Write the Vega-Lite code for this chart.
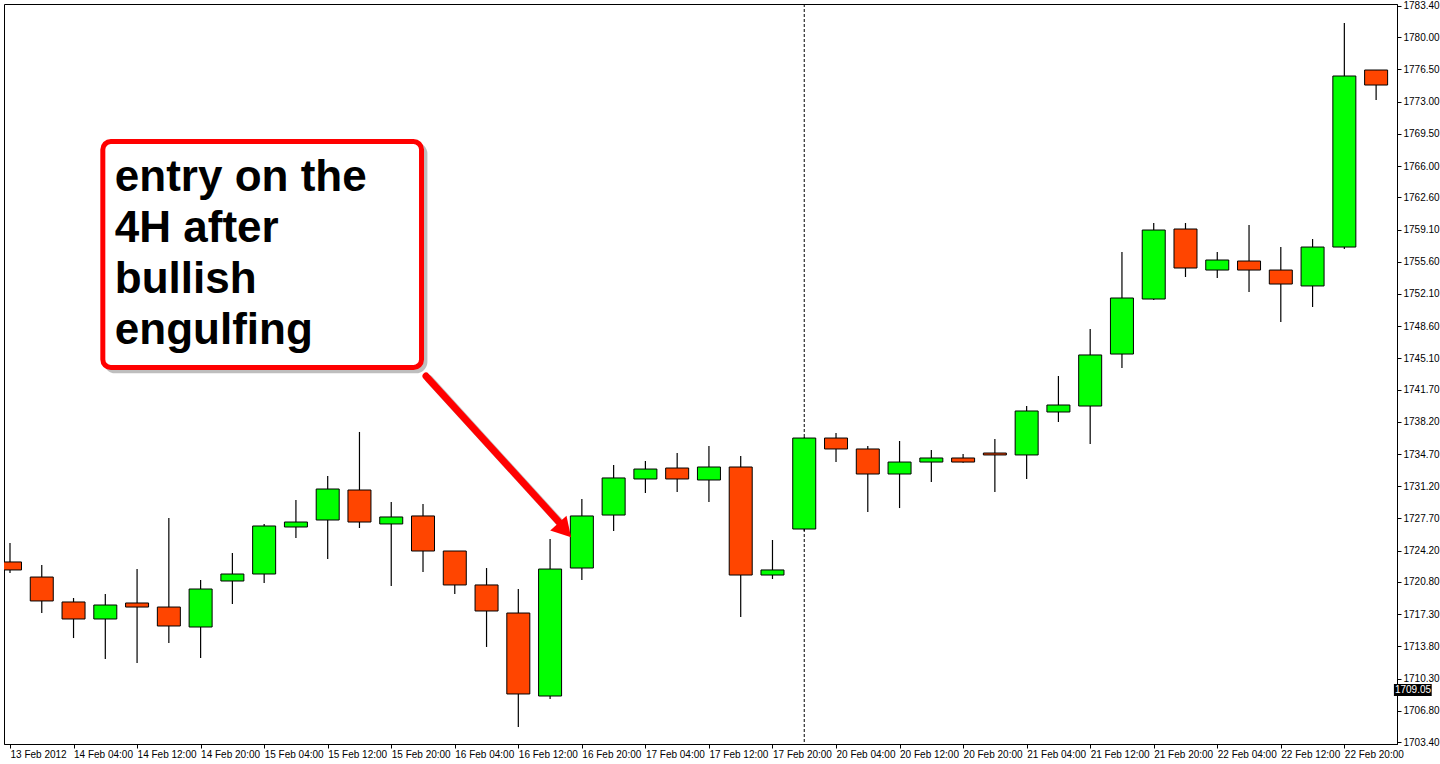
{
  "$schema": "https://vega.github.io/schema/vega-lite/v6.json",
  "autosize": {"type": "none"},
  "width": 1393,
  "height": 740,
  "padding": {"left": 4, "top": 4, "right": 43, "bottom": 20},
  "background": "white",
  "config": {
    "view": {"stroke": "black", "strokeWidth": 1},
    "axis": {"domainColor": "black", "tickColor": "black", "labelColor": "black", "labelFont": "Liberation Sans", "labelFontSize": 10, "grid": false, "title": null}
  },
  "datasets": {
    "candles": [
      {"i": 0, "t": "2012-02-13 20:00", "o": 1722.97, "h": 1725.03, "l": 1721.77, "c": 1722.10},
      {"i": 1, "t": "2012-02-14 00:00", "o": 1721.33, "h": 1722.64, "l": 1717.42, "c": 1718.73},
      {"i": 2, "t": "2012-02-14 04:00", "o": 1718.62, "h": 1719.05, "l": 1714.70, "c": 1716.77},
      {"i": 3, "t": "2012-02-14 08:00", "o": 1716.77, "h": 1719.49, "l": 1712.42, "c": 1718.29},
      {"i": 4, "t": "2012-02-14 12:00", "o": 1718.51, "h": 1722.20, "l": 1711.99, "c": 1718.07},
      {"i": 5, "t": "2012-02-14 16:00", "o": 1718.07, "h": 1727.75, "l": 1714.16, "c": 1716.01},
      {"i": 6, "t": "2012-02-14 20:00", "o": 1715.90, "h": 1721.01, "l": 1712.53, "c": 1720.03},
      {"i": 7, "t": "2012-02-15 00:00", "o": 1720.90, "h": 1723.94, "l": 1718.40, "c": 1721.66},
      {"i": 8, "t": "2012-02-15 04:00", "o": 1721.66, "h": 1727.10, "l": 1720.68, "c": 1726.88},
      {"i": 9, "t": "2012-02-15 08:00", "o": 1726.77, "h": 1729.70, "l": 1725.57, "c": 1727.31},
      {"i": 10, "t": "2012-02-15 12:00", "o": 1727.53, "h": 1732.31, "l": 1723.29, "c": 1730.90},
      {"i": 11, "t": "2012-02-15 16:00", "o": 1730.79, "h": 1737.10, "l": 1726.66, "c": 1727.31},
      {"i": 12, "t": "2012-02-15 20:00", "o": 1727.10, "h": 1729.49, "l": 1720.36, "c": 1727.86},
      {"i": 13, "t": "2012-02-16 00:00", "o": 1727.97, "h": 1729.27, "l": 1721.88, "c": 1724.16},
      {"i": 14, "t": "2012-02-16 04:00", "o": 1724.16, "h": 1724.16, "l": 1719.49, "c": 1720.47},
      {"i": 15, "t": "2012-02-16 08:00", "o": 1720.47, "h": 1722.31, "l": 1713.73, "c": 1717.64},
      {"i": 16, "t": "2012-02-16 12:00", "o": 1717.42, "h": 1720.03, "l": 1705.03, "c": 1708.62},
      {"i": 17, "t": "2012-02-16 16:00", "o": 1708.40, "h": 1725.47, "l": 1708.07, "c": 1722.20},
      {"i": 18, "t": "2012-02-16 20:00", "o": 1722.31, "h": 1729.81, "l": 1721.01, "c": 1727.97},
      {"i": 19, "t": "2012-02-17 00:00", "o": 1728.07, "h": 1733.51, "l": 1726.33, "c": 1732.10},
      {"i": 20, "t": "2012-02-17 04:00", "o": 1731.99, "h": 1733.94, "l": 1730.47, "c": 1733.07},
      {"i": 21, "t": "2012-02-17 08:00", "o": 1733.18, "h": 1734.81, "l": 1730.57, "c": 1731.99},
      {"i": 22, "t": "2012-02-17 12:00", "o": 1731.88, "h": 1735.57, "l": 1729.49, "c": 1733.29},
      {"i": 23, "t": "2012-02-17 16:00", "o": 1733.29, "h": 1734.49, "l": 1716.99, "c": 1721.55},
      {"i": 24, "t": "2012-02-17 20:00", "o": 1721.55, "h": 1725.36, "l": 1721.12, "c": 1722.10},
      {"i": 25, "t": "2012-02-20 00:00", "o": 1726.55, "h": 1736.55, "l": 1726.33, "c": 1736.44},
      {"i": 26, "t": "2012-02-20 04:00", "o": 1736.44, "h": 1736.99, "l": 1733.83, "c": 1735.25},
      {"i": 27, "t": "2012-02-20 08:00", "o": 1735.25, "h": 1735.57, "l": 1728.40, "c": 1732.53},
      {"i": 28, "t": "2012-02-20 12:00", "o": 1732.53, "h": 1736.12, "l": 1728.83, "c": 1733.83},
      {"i": 29, "t": "2012-02-20 16:00", "o": 1733.83, "h": 1735.14, "l": 1731.66, "c": 1734.27},
      {"i": 30, "t": "2012-02-20 20:00", "o": 1734.27, "h": 1734.70, "l": 1733.75, "c": 1733.83},
      {"i": 31, "t": "2012-02-21 00:00", "o": 1734.81, "h": 1736.33, "l": 1730.57, "c": 1734.60},
      {"i": 32, "t": "2012-02-21 04:00", "o": 1734.60, "h": 1739.92, "l": 1731.99, "c": 1739.38},
      {"i": 33, "t": "2012-02-21 08:00", "o": 1739.27, "h": 1743.18, "l": 1738.18, "c": 1740.03},
      {"i": 34, "t": "2012-02-21 12:00", "o": 1739.92, "h": 1748.29, "l": 1735.79, "c": 1745.47},
      {"i": 35, "t": "2012-02-21 16:00", "o": 1745.57, "h": 1756.66, "l": 1744.05, "c": 1751.66},
      {"i": 36, "t": "2012-02-21 20:00", "o": 1751.55, "h": 1759.81, "l": 1751.45, "c": 1759.05},
      {"i": 37, "t": "2012-02-22 00:00", "o": 1759.16, "h": 1759.81, "l": 1753.94, "c": 1754.92},
      {"i": 38, "t": "2012-02-22 04:00", "o": 1754.70, "h": 1756.66, "l": 1753.83, "c": 1755.79},
      {"i": 39, "t": "2012-02-22 08:00", "o": 1755.68, "h": 1759.60, "l": 1752.31, "c": 1754.70},
      {"i": 40, "t": "2012-02-22 12:00", "o": 1754.70, "h": 1757.20, "l": 1749.05, "c": 1753.18},
      {"i": 41, "t": "2012-02-22 16:00", "o": 1752.97, "h": 1758.07, "l": 1750.68, "c": 1757.20},
      {"i": 42, "t": "2012-02-22 20:00", "o": 1757.20, "h": 1781.55, "l": 1756.99, "c": 1775.79},
      {"i": 43, "t": "2012-02-23 00:00", "o": 1776.44, "h": 1776.44, "l": 1773.18, "c": 1774.81}
    ],
    "separator": [{"sep": 25}],
    "box": [{"x": 2.922, "x2": 12.953, "y": 1768.67, "y2": 1744.11}],
    "boxShadow": [{"x": 3.03, "x2": 13.06, "y": 1768.30, "y2": 1743.74}],
    "note": [{"x": 3.30, "y": 1763.30, "label": "entry on the\n4H after\nbullish\nengulfing"}],
    "arrow": [{"x": 13.094, "y": 1743.18, "x2": 17.281, "y2": 1727.31}],
    "arrowShadow": [{"x": 13.19, "y": 1742.85, "x2": 17.38, "y2": 1726.98}],
    "arrowHead": [{"x": 17.46, "y": 1726.42}],
    "priceTag": [{"x": 43.56, "x2": 44.75, "y": 1708.40, "y2": 1709.70, "xc": 44.16, "price": 1709.05}]
  },
  "layer": [
    {
      "data": {"name": "separator"},
      "mark": {"type": "rule", "color": "black", "strokeWidth": 1, "strokeDash": [3, 2]},
      "encoding": {
        "x": {"field": "sep", "type": "quantitative", "title": null, "scale": {"domain": [-0.03125, 43.5], "nice": false, "zero": false}}
      }
    },
    {
      "data": {"name": "candles"},
      "mark": {"type": "rule", "color": "black", "strokeWidth": 1.2, "clip": true},
      "encoding": {
        "x": {
          "field": "i", "type": "quantitative", "title": null,
          "scale": {"domain": [-0.03125, 43.5], "nice": false, "zero": false},
          "axis": {
            "values": [0, 2, 4, 6, 8, 10, 12, 14, 16, 18, 20, 22, 24, 26, 28, 30, 32, 34, 36, 38, 40, 42],
            "tickCount": 60,
            "labelExpr": "['13 Feb 2012','14 Feb 04:00','14 Feb 12:00','14 Feb 20:00','15 Feb 04:00','15 Feb 12:00','15 Feb 20:00','16 Feb 04:00','16 Feb 12:00','16 Feb 20:00','17 Feb 04:00','17 Feb 12:00','17 Feb 20:00','20 Feb 04:00','20 Feb 12:00','20 Feb 20:00','21 Feb 04:00','21 Feb 12:00','21 Feb 20:00','22 Feb 04:00','22 Feb 12:00','22 Feb 20:00'][round(datum.value/2)]",
            "labelAlign": "left", "labelBaseline": "top", "labelDx": 1, "labelPadding": 1,
            "tickSize": 4, "labelFlush": false, "labelOverlap": false, "labelBound": false, "title": null
          }
        },
        "y": {
          "field": "l", "type": "quantitative", "title": null,
          "scale": {"domain": [1703.183, 1783.617], "nice": false, "zero": false},
          "axis": {
            "orient": "right",
            "values": [1783.4, 1780, 1776.5, 1773, 1769.5, 1766, 1762.6, 1759.1, 1755.6, 1752.1, 1748.6, 1745.1, 1741.7, 1738.2, 1734.7, 1731.2, 1727.7, 1724.2, 1720.8, 1717.3, 1713.8, 1710.3, 1706.8, 1703.4],
            "tickCount": 60,
            "format": ".2f", "tickSize": 4, "labelPadding": 2, "labelBaseline": "middle", "labelOverlap": false, "labelBound": false, "labelFlush": false, "title": null
          }
        },
        "y2": {"field": "h"}
      }
    },
    {
      "data": {"name": "candles"},
      "mark": {"type": "bar", "width": 23, "stroke": "black", "strokeWidth": 1, "clip": true},
      "encoding": {
        "x": {"field": "i", "type": "quantitative", "title": null},
        "y": {"field": "o", "type": "quantitative", "title": null},
        "y2": {"field": "c"},
        "fill": {"condition": {"test": "datum.c >= datum.o", "value": "#00FF00"}, "value": "#FF4500"}
      }
    },
    {
      "data": {"name": "boxShadow"},
      "mark": {"type": "rect", "cornerRadius": 9, "fill": "#8a8a8a", "stroke": "#8a8a8a", "strokeWidth": 5, "opacity": 0.55},
      "encoding": {
        "x": {"field": "x", "type": "quantitative", "title": null},
        "x2": {"field": "x2"},
        "y": {"field": "y", "type": "quantitative", "title": null},
        "y2": {"field": "y2"}
      }
    },
    {
      "data": {"name": "box"},
      "mark": {"type": "rect", "cornerRadius": 8, "fill": "white", "stroke": "#FF0000", "strokeWidth": 5},
      "encoding": {
        "x": {"field": "x", "type": "quantitative", "title": null},
        "x2": {"field": "x2"},
        "y": {"field": "y", "type": "quantitative", "title": null},
        "y2": {"field": "y2"}
      }
    },
    {
      "data": {"name": "note"},
      "mark": {"type": "text", "font": "Liberation Sans", "fontWeight": "bold", "fontSize": 44, "color": "black", "align": "left", "baseline": "alphabetic", "lineBreak": "\n", "lineHeight": 51},
      "encoding": {
        "x": {"field": "x", "type": "quantitative", "title": null},
        "y": {"field": "y", "type": "quantitative", "title": null},
        "text": {"field": "label"}
      }
    },
    {
      "data": {"name": "arrowShadow"},
      "mark": {"type": "rule", "color": "#777777", "opacity": 0.45, "strokeWidth": 8, "strokeCap": "round"},
      "encoding": {
        "x": {"field": "x", "type": "quantitative", "title": null},
        "x2": {"field": "x2"},
        "y": {"field": "y", "type": "quantitative", "title": null},
        "y2": {"field": "y2"}
      }
    },
    {
      "data": {"name": "arrow"},
      "mark": {"type": "rule", "color": "#FF0000", "strokeWidth": 7, "strokeCap": "round"},
      "encoding": {
        "x": {"field": "x", "type": "quantitative", "title": null},
        "x2": {"field": "x2"},
        "y": {"field": "y", "type": "quantitative", "title": null},
        "y2": {"field": "y2"}
      }
    },
    {
      "data": {"name": "arrowHead"},
      "mark": {"type": "point", "shape": "triangle-up", "filled": true, "color": "#FF0000", "size": 480, "angle": 138, "opacity": 1},
      "encoding": {
        "x": {"field": "x", "type": "quantitative", "title": null},
        "y": {"field": "y", "type": "quantitative", "title": null}
      }
    },
    {
      "data": {"name": "priceTag"},
      "mark": {"type": "rect", "fill": "black"},
      "encoding": {
        "x": {"field": "x", "type": "quantitative", "title": null},
        "x2": {"field": "x2"},
        "y": {"field": "y", "type": "quantitative", "title": null},
        "y2": {"field": "y2"}
      }
    },
    {
      "data": {"name": "priceTag"},
      "mark": {"type": "text", "font": "Liberation Sans", "fontSize": 10, "color": "white", "align": "center", "baseline": "middle"},
      "encoding": {
        "x": {"field": "xc", "type": "quantitative", "title": null},
        "y": {"field": "price", "type": "quantitative", "title": null},
        "text": {"field": "price", "type": "quantitative", "format": ".2f"}
      }
    }
  ]
}
